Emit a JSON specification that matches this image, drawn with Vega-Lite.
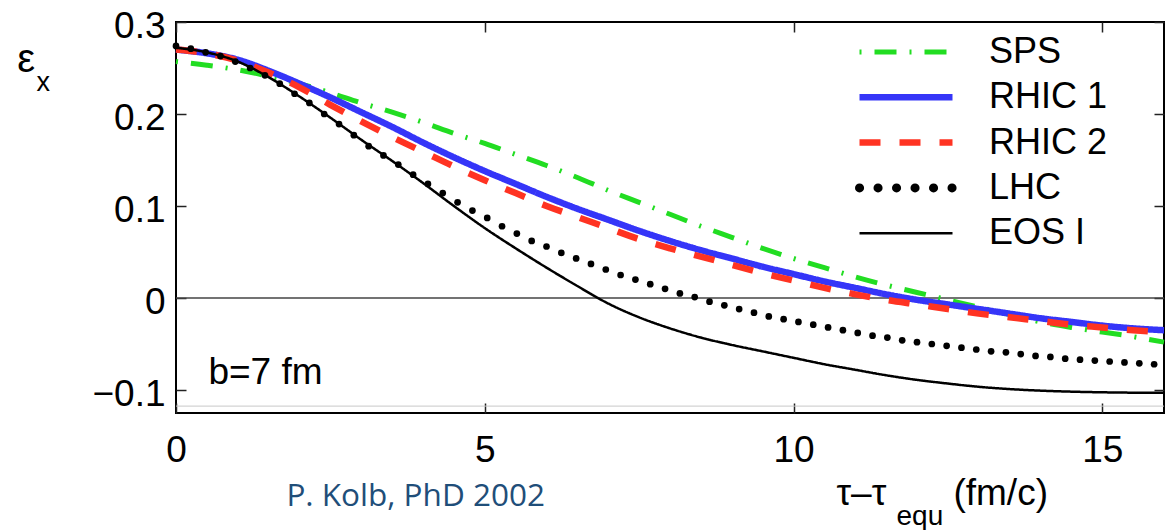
{
  "$schema": "https://vega.github.io/schema/vega-lite/v6.json",
  "width": 988,
  "height": 391,
  "autosize": {"type": "none"},
  "padding": {"left": 176, "top": 22, "right": 7, "bottom": 117},
  "background": "white",
  "config": {
    "view": {"stroke": "black", "strokeWidth": 2},
    "font": "Liberation Sans",
    "axis": {"grid": false, "domain": false, "tickColor": "#222", "tickWidth": 1.5, "tickSize": -10, "labelFont": "Liberation Sans", "labelFontSize": 37, "labelColor": "black", "title": null, "labelFlush": false, "labelOverlap": false}
  },
  "datasets": {
    "curves": [
      {"s":"SPS","t":0,"e":0.257},{"s":"SPS","t":0.5,"e":0.253},{"s":"SPS","t":1,"e":0.248},{"s":"SPS","t":1.5,"e":0.241},{"s":"SPS","t":2,"e":0.233},{"s":"SPS","t":2.5,"e":0.223},{"s":"SPS","t":3,"e":0.212},{"s":"SPS","t":3.5,"e":0.202},{"s":"SPS","t":4,"e":0.191},{"s":"SPS","t":4.5,"e":0.179},{"s":"SPS","t":5,"e":0.168},{"s":"SPS","t":5.5,"e":0.156},{"s":"SPS","t":6,"e":0.144},{"s":"SPS","t":6.5,"e":0.131},{"s":"SPS","t":7,"e":0.117},{"s":"SPS","t":7.5,"e":0.104},{"s":"SPS","t":8,"e":0.091},{"s":"SPS","t":8.5,"e":0.078},{"s":"SPS","t":9,"e":0.066},{"s":"SPS","t":9.5,"e":0.054},{"s":"SPS","t":10,"e":0.043},{"s":"SPS","t":10.5,"e":0.033},{"s":"SPS","t":11,"e":0.023},{"s":"SPS","t":11.5,"e":0.014},{"s":"SPS","t":12,"e":0.006},{"s":"SPS","t":12.5,"e":-0.002},{"s":"SPS","t":13,"e":-0.010},{"s":"SPS","t":13.5,"e":-0.018},{"s":"SPS","t":14,"e":-0.026},{"s":"SPS","t":14.5,"e":-0.032},{"s":"SPS","t":15,"e":-0.037},{"s":"SPS","t":15.5,"e":-0.042},{"s":"SPS","t":16,"e":-0.048},
      {"s":"RHIC 1","t":0,"e":0.270},{"s":"RHIC 1","t":0.5,"e":0.266},{"s":"RHIC 1","t":1,"e":0.259},{"s":"RHIC 1","t":1.5,"e":0.247},{"s":"RHIC 1","t":2,"e":0.233},{"s":"RHIC 1","t":2.5,"e":0.218},{"s":"RHIC 1","t":3,"e":0.202},{"s":"RHIC 1","t":3.5,"e":0.186},{"s":"RHIC 1","t":4,"e":0.169},{"s":"RHIC 1","t":4.5,"e":0.153},{"s":"RHIC 1","t":5,"e":0.138},{"s":"RHIC 1","t":5.5,"e":0.124},{"s":"RHIC 1","t":6,"e":0.110},{"s":"RHIC 1","t":6.5,"e":0.097},{"s":"RHIC 1","t":7,"e":0.085},{"s":"RHIC 1","t":7.5,"e":0.073},{"s":"RHIC 1","t":8,"e":0.062},{"s":"RHIC 1","t":8.5,"e":0.052},{"s":"RHIC 1","t":9,"e":0.043},{"s":"RHIC 1","t":9.5,"e":0.034},{"s":"RHIC 1","t":10,"e":0.026},{"s":"RHIC 1","t":10.5,"e":0.018},{"s":"RHIC 1","t":11,"e":0.011},{"s":"RHIC 1","t":11.5,"e":0.004},{"s":"RHIC 1","t":12,"e":-0.002},{"s":"RHIC 1","t":12.5,"e":-0.007},{"s":"RHIC 1","t":13,"e":-0.012},{"s":"RHIC 1","t":13.5,"e":-0.017},{"s":"RHIC 1","t":14,"e":-0.022},{"s":"RHIC 1","t":14.5,"e":-0.026},{"s":"RHIC 1","t":15,"e":-0.030},{"s":"RHIC 1","t":15.5,"e":-0.033},{"s":"RHIC 1","t":16,"e":-0.035},
      {"s":"RHIC 2","t":0,"e":0.270},{"s":"RHIC 2","t":0.5,"e":0.266},{"s":"RHIC 2","t":1,"e":0.258},{"s":"RHIC 2","t":1.5,"e":0.245},{"s":"RHIC 2","t":2,"e":0.229},{"s":"RHIC 2","t":2.5,"e":0.210},{"s":"RHIC 2","t":3,"e":0.192},{"s":"RHIC 2","t":3.5,"e":0.175},{"s":"RHIC 2","t":4,"e":0.159},{"s":"RHIC 2","t":4.5,"e":0.143},{"s":"RHIC 2","t":5,"e":0.128},{"s":"RHIC 2","t":5.5,"e":0.114},{"s":"RHIC 2","t":6,"e":0.100},{"s":"RHIC 2","t":6.5,"e":0.088},{"s":"RHIC 2","t":7,"e":0.076},{"s":"RHIC 2","t":7.5,"e":0.064},{"s":"RHIC 2","t":8,"e":0.054},{"s":"RHIC 2","t":8.5,"e":0.045},{"s":"RHIC 2","t":9,"e":0.036},{"s":"RHIC 2","t":9.5,"e":0.027},{"s":"RHIC 2","t":10,"e":0.019},{"s":"RHIC 2","t":10.5,"e":0.011},{"s":"RHIC 2","t":11,"e":0.004},{"s":"RHIC 2","t":11.5,"e":-0.002},{"s":"RHIC 2","t":12,"e":-0.007},{"s":"RHIC 2","t":12.5,"e":-0.012},{"s":"RHIC 2","t":13,"e":-0.017},{"s":"RHIC 2","t":13.5,"e":-0.021},{"s":"RHIC 2","t":14,"e":-0.025},{"s":"RHIC 2","t":14.5,"e":-0.029},{"s":"RHIC 2","t":15,"e":-0.032},{"s":"RHIC 2","t":15.5,"e":-0.035},{"s":"RHIC 2","t":16,"e":-0.037},
      {"s":"EOS I","t":0,"e":0.272},{"s":"EOS I","t":0.5,"e":0.267},{"s":"EOS I","t":1,"e":0.257},{"s":"EOS I","t":1.5,"e":0.240},{"s":"EOS I","t":2,"e":0.219},{"s":"EOS I","t":2.5,"e":0.196},{"s":"EOS I","t":3,"e":0.172},{"s":"EOS I","t":3.5,"e":0.149},{"s":"EOS I","t":4,"e":0.125},{"s":"EOS I","t":4.5,"e":0.100},{"s":"EOS I","t":5,"e":0.076},{"s":"EOS I","t":5.5,"e":0.054},{"s":"EOS I","t":6,"e":0.033},{"s":"EOS I","t":6.5,"e":0.013},{"s":"EOS I","t":7,"e":-0.006},{"s":"EOS I","t":7.5,"e":-0.021},{"s":"EOS I","t":8,"e":-0.033},{"s":"EOS I","t":8.5,"e":-0.043},{"s":"EOS I","t":9,"e":-0.051},{"s":"EOS I","t":9.5,"e":-0.058},{"s":"EOS I","t":10,"e":-0.065},{"s":"EOS I","t":10.5,"e":-0.072},{"s":"EOS I","t":11,"e":-0.078},{"s":"EOS I","t":11.5,"e":-0.084},{"s":"EOS I","t":12,"e":-0.089},{"s":"EOS I","t":12.5,"e":-0.093},{"s":"EOS I","t":13,"e":-0.0965},{"s":"EOS I","t":13.5,"e":-0.099},{"s":"EOS I","t":14,"e":-0.1007},{"s":"EOS I","t":14.5,"e":-0.1018},{"s":"EOS I","t":15,"e":-0.1025},{"s":"EOS I","t":15.5,"e":-0.1029},{"s":"EOS I","t":16,"e":-0.103}
    ],
    "lhc": [
      {"t":0,"e":0.274},{"t":0.24,"e":0.271},{"t":0.48,"e":0.267},{"t":0.72,"e":0.263},{"t":0.96,"e":0.257},{"t":1.2,"e":0.250},{"t":1.44,"e":0.242},{"t":1.68,"e":0.233},{"t":1.92,"e":0.222},{"t":2.16,"e":0.212},{"t":2.4,"e":0.200},{"t":2.64,"e":0.189},{"t":2.88,"e":0.177},{"t":3.12,"e":0.165},{"t":3.36,"e":0.155},{"t":3.6,"e":0.145},{"t":3.84,"e":0.134},{"t":4.08,"e":0.124},{"t":4.32,"e":0.114},{"t":4.56,"e":0.104},{"t":4.8,"e":0.095},{"t":5.04,"e":0.087},{"t":5.28,"e":0.078},{"t":5.52,"e":0.070},{"t":5.76,"e":0.062},{"t":6.0,"e":0.056},{"t":6.24,"e":0.049},{"t":6.48,"e":0.043},{"t":6.72,"e":0.037},{"t":6.96,"e":0.031},{"t":7.2,"e":0.025},{"t":7.44,"e":0.020},{"t":7.68,"e":0.015},{"t":7.92,"e":0.010},{"t":8.16,"e":0.005},{"t":8.4,"e":0.001},{"t":8.64,"e":-0.004},{"t":8.88,"e":-0.008},{"t":9.12,"e":-0.012},{"t":9.36,"e":-0.016},{"t":9.6,"e":-0.020},{"t":9.84,"e":-0.023},{"t":10.08,"e":-0.026},{"t":10.32,"e":-0.029},{"t":10.56,"e":-0.032},{"t":10.8,"e":-0.035},{"t":11.04,"e":-0.038},{"t":11.28,"e":-0.041},{"t":11.52,"e":-0.043},{"t":11.76,"e":-0.046},{"t":12.0,"e":-0.048},{"t":12.24,"e":-0.050},{"t":12.48,"e":-0.052},{"t":12.72,"e":-0.054},{"t":12.96,"e":-0.056},{"t":13.2,"e":-0.058},{"t":13.44,"e":-0.059},{"t":13.68,"e":-0.061},{"t":13.92,"e":-0.063},{"t":14.16,"e":-0.064},{"t":14.4,"e":-0.066},{"t":14.64,"e":-0.067},{"t":14.88,"e":-0.068},{"t":15.12,"e":-0.069},{"t":15.36,"e":-0.070},{"t":15.6,"e":-0.071},{"t":15.84,"e":-0.072}
    ]
  },
  "resolve": {"axis": {"x": "independent", "y": "independent"}},
  "layer": [
    {
      "data": {"values": [{}]},
      "mark": {"type": "rule", "color": "#c8c8c8", "strokeWidth": 1},
      "encoding": {"y": {"datum": -0.1175, "type": "quantitative", "scale": {"domain": [-0.125, 0.3], "nice": false, "zero": false}, "axis": null}}
    },
    {
      "data": {"values": [{}]},
      "mark": {"type": "rule", "color": "#444", "strokeWidth": 1.5},
      "encoding": {"y": {"datum": 0, "type": "quantitative", "scale": {"domain": [-0.125, 0.3], "nice": false, "zero": false}, "axis": null}}
    },
    {
      "data": {"name": "curves"},
      "mark": {"type": "line", "interpolate": "monotone", "strokeCap": "butt"},
      "encoding": {
        "x": {"field": "t", "type": "quantitative", "scale": {"domain": [0, 16], "nice": false, "zero": false}, "axis": {"orient": "bottom", "values": [0, 5, 10, 15], "labelPadding": 29}},
        "y": {"field": "e", "type": "quantitative", "scale": {"domain": [-0.125, 0.3], "nice": false, "zero": false}, "axis": {"orient": "left", "values": [-0.1, 0, 0.1, 0.2, 0.3], "labelExpr": "datum.value == 0 ? '0' : format(datum.value, '.1f')", "labelPadding": 21, "labelOffset": 4}},
        "color": {"field": "s", "type": "nominal", "sort": null,
          "scale": {"domain": ["SPS", "RHIC 1", "RHIC 2", "LHC", "EOS I"], "range": ["#22DD22", "#3535F8", "#FF3322", "#000000", "#000000"]},
          "legend": {"orient": "none", "legendX": 679, "legendY": 12, "title": null, "symbolType": "stroke", "symbolSize": 8649, "labelFontSize": 36, "labelFont": "Liberation Sans", "labelColor": "black", "labelOffset": 32, "clipHeight": 36, "rowPadding": 9.3, "padding": 0, "labelLimit": 400,
            "encode": {"symbols": {"update": {"strokeCap": [{"test": "datum.value === 'LHC'", "value": "round"}, {"value": "butt"}]}}}}},
        "strokeDash": {"field": "s", "type": "nominal", "sort": null,
          "scale": {"type": "ordinal", "domain": ["SPS", "RHIC 1", "RHIC 2", "LHC", "EOS I"], "range": [[2, 13, 22, 13], [1, 0], [21, 19], [0.1, 18.4], [1, 0]]},
          "legend": {"orient": "none", "legendX": 679, "legendY": 12, "title": null, "symbolType": "stroke", "symbolSize": 8649, "labelFontSize": 36, "labelFont": "Liberation Sans", "labelColor": "black", "labelOffset": 32, "clipHeight": 36, "rowPadding": 9.3, "padding": 0, "labelLimit": 400}},
        "strokeWidth": {"field": "s", "type": "nominal", "sort": null,
          "scale": {"type": "ordinal", "domain": ["SPS", "RHIC 1", "RHIC 2", "LHC", "EOS I"], "range": [5, 6.5, 6.5, 9, 2.5]},
          "legend": {"orient": "none", "legendX": 679, "legendY": 12, "title": null, "symbolType": "stroke", "symbolSize": 8649, "labelFontSize": 36, "labelFont": "Liberation Sans", "labelColor": "black", "labelOffset": 32, "clipHeight": 36, "rowPadding": 9.3, "padding": 0, "labelLimit": 400}}
      }
    },
    {
      "data": {"name": "lhc"},
      "mark": {"type": "point", "filled": true, "color": "black", "size": 45, "opacity": 1},
      "encoding": {
        "x": {"field": "t", "type": "quantitative", "scale": {"domain": [0, 16], "nice": false, "zero": false}, "axis": {"orient": "top", "values": [0, 5, 10, 15], "labels": false}},
        "y": {"field": "e", "type": "quantitative", "scale": {"domain": [-0.125, 0.3], "nice": false, "zero": false}, "axis": {"orient": "right", "values": [-0.1, 0, 0.1, 0.2, 0.3], "labels": false}}
      }
    },
    {
      "data": {"values": [{}]},
      "mark": {"type": "text", "text": "b=7 fm", "font": "Liberation Sans", "fontSize": 37, "align": "left", "baseline": "alphabetic", "color": "black"},
      "encoding": {"x": {"datum": 0.525, "type": "quantitative", "axis": null}, "y": {"datum": -0.0935, "type": "quantitative", "axis": null}}
    },
    {
      "data": {"values": [{}]},
      "mark": {"type": "text", "text": "ε", "font": "Liberation Sans", "fontSize": 40, "align": "left", "baseline": "alphabetic", "color": "black"},
      "encoding": {"x": {"datum": -2.57, "type": "quantitative", "axis": null}, "y": {"datum": 0.2457, "type": "quantitative", "axis": null}}
    },
    {
      "data": {"values": [{}]},
      "mark": {"type": "text", "text": "x", "font": "Liberation Sans", "fontSize": 27, "align": "left", "baseline": "alphabetic", "color": "black"},
      "encoding": {"x": {"datum": -2.261, "type": "quantitative", "axis": null}, "y": {"datum": 0.225, "type": "quantitative", "axis": null}}
    },
    {
      "data": {"values": [{}]},
      "mark": {"type": "text", "text": "τ–τ", "font": "Liberation Sans", "fontSize": 37, "align": "left", "baseline": "alphabetic", "color": "black"},
      "encoding": {"x": {"datum": 10.696, "type": "quantitative", "axis": null}, "y": {"datum": -0.225, "type": "quantitative", "axis": null}}
    },
    {
      "data": {"values": [{}]},
      "mark": {"type": "text", "text": "equ", "font": "Liberation Sans", "fontSize": 28, "align": "left", "baseline": "alphabetic", "color": "black"},
      "encoding": {"x": {"datum": 11.668, "type": "quantitative", "axis": null}, "y": {"datum": -0.2467, "type": "quantitative", "axis": null}}
    },
    {
      "data": {"values": [{}]},
      "mark": {"type": "text", "text": "(fm/c)", "font": "Liberation Sans", "fontSize": 37, "align": "left", "baseline": "alphabetic", "color": "black"},
      "encoding": {"x": {"datum": 12.59, "type": "quantitative", "axis": null}, "y": {"datum": -0.225, "type": "quantitative", "axis": null}}
    },
    {
      "data": {"values": [{}]},
      "mark": {"type": "text", "text": "P. Kolb, PhD 2002", "font": "Open Sans", "fontSize": 31.5, "align": "left", "baseline": "alphabetic", "color": "#1F4E79"},
      "encoding": {"x": {"datum": 1.788, "type": "quantitative", "axis": null}, "y": {"datum": -0.226, "type": "quantitative", "axis": null}}
    }
  ]
}
